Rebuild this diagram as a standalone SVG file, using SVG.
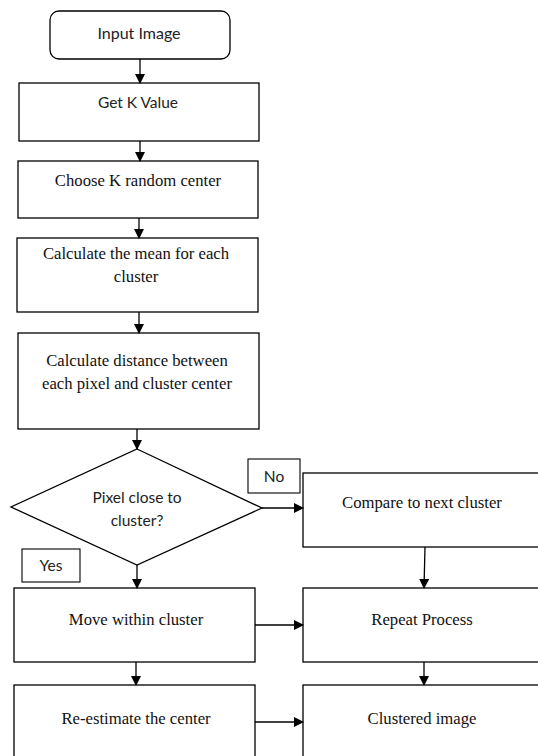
<svg xmlns="http://www.w3.org/2000/svg" width="538" height="756" viewBox="0 0 538 756">
<defs>
<marker id="ah" markerWidth="10" markerHeight="10" refX="9" refY="5" orient="auto" markerUnits="userSpaceOnUse">
<path d="M0,0 L10,5 L0,10 Z" fill="#000"/>
</marker>
<style>
.box{fill:#fff;stroke:#000;stroke-width:1.3}
.lbl{fill:#fff;stroke:#000;stroke-width:1.1}
.s{font-family:Lato,"Open Sans","Noto Sans",sans-serif;font-size:15.5px;fill:#222;text-anchor:middle;dominant-baseline:central}
.t{font-family:"Liberation Serif","Times New Roman",serif;font-size:16.7px;fill:#111;text-anchor:middle;dominant-baseline:central}
.c{stroke:#000;stroke-width:1.3;fill:none;marker-end:url(#ah)}
</style>
</defs>
<rect width="538" height="756" fill="#fff"/>
<g id="input"><rect class="box" x="50" y="11" width="180" height="48" rx="9"/><text class="s" x="139" y="32" style="font-size:16px">Input Image</text></g>
<g id="getk"><rect class="box" x="19" y="83" width="240" height="58"/><text class="s" x="138" y="102">Get K Value</text></g>
<g id="choose"><rect class="box" x="18" y="161" width="240" height="57"/><text class="t" x="138" y="180">Choose K random center</text></g>
<g id="mean"><rect class="box" x="17" y="238" width="241" height="74"/><text class="t" x="136" y="253">Calculate the mean for each</text><text class="t" x="136" y="276">cluster</text></g>
<g id="dist"><rect class="box" x="18" y="333" width="241" height="96"/><text class="t" x="137" y="360">Calculate distance between</text><text class="t" x="137" y="383">each pixel and cluster center</text></g>
<g id="decision"><polygon class="box" points="137,449 262,508 137,565 11,507"/><text class="s" x="137" y="497">Pixel close to</text><text class="s" x="137" y="520">cluster?</text></g>
<g id="no"><rect class="lbl" x="248" y="459" width="52" height="34"/><text class="s" x="274" y="476">No</text></g>
<g id="yes"><rect class="lbl" x="22" y="549" width="58" height="33"/><text class="s" x="51" y="565">Yes</text></g>
<g id="compare"><rect class="box" x="303" y="473" width="245" height="74"/><text class="t" x="422" y="502">Compare to next cluster</text></g>
<g id="move"><rect class="box" x="14" y="588" width="241" height="74"/><text class="t" x="136" y="619">Move within cluster</text></g>
<g id="repeat"><rect class="box" x="303" y="588" width="245" height="74"/><text class="t" x="422" y="619">Repeat Process</text></g>
<g id="reestimate"><rect class="box" x="14" y="685" width="241" height="90"/><text class="t" x="136" y="718">Re-estimate the center</text></g>
<g id="clustered"><rect class="box" x="303" y="685" width="245" height="90"/><text class="t" x="422" y="718">Clustered image</text></g>
<g id="connectors">
<line class="c" x1="140" y1="59" x2="140" y2="83"/>
<line class="c" x1="140" y1="141" x2="140" y2="161"/>
<line class="c" x1="139" y1="218" x2="139" y2="238"/>
<line class="c" x1="139" y1="312" x2="139" y2="333"/>
<line class="c" x1="137" y1="429" x2="137" y2="449"/>
<line class="c" x1="262" y1="508" x2="303" y2="508"/>
<line class="c" x1="137" y1="565" x2="137" y2="588"/>
<line class="c" x1="425" y1="547" x2="424" y2="588"/>
<line class="c" x1="136" y1="662" x2="136" y2="685"/>
<line class="c" x1="424" y1="662" x2="424" y2="685"/>
<line class="c" x1="255" y1="625" x2="303" y2="625"/>
<line class="c" x1="255" y1="722" x2="303" y2="722"/>
</g>
</svg>
